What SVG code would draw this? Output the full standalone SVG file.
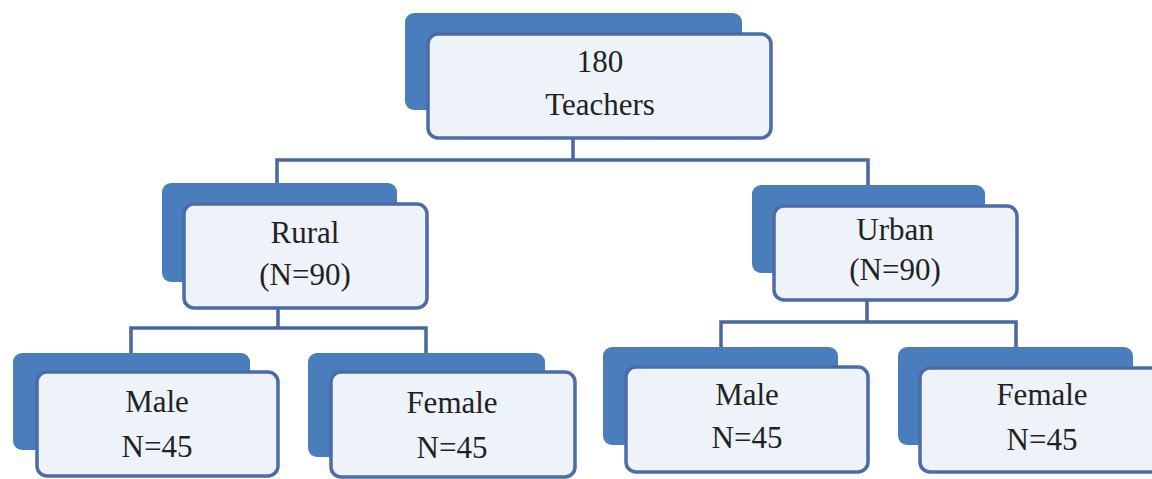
<svg xmlns="http://www.w3.org/2000/svg" width="1152" height="479" viewBox="0 0 1152 479">
<style>
.back{fill:#4a7dbb;}
.front{fill:#eef2f9;stroke:#4d6ba6;stroke-width:3.5;}
.conn{fill:none;stroke:#4a67a0;stroke-width:3.5;}
text{font-family:"Liberation Serif","Times New Roman",serif;fill:#222;text-anchor:middle;font-size:31px;}
</style>
<rect width="1152" height="479" fill="#ffffff"/>
<g id="connectors">
<path class="conn" d="M573 138 V160 M277 185 V160 H868 V185"/>
<path class="conn" d="M278 308 V328 M131 353 V328 H426 V353"/>
<path class="conn" d="M867 300 V322 M721 347 V322 H1016 V347"/>
</g>
<g id="teachers">
<rect class="back" x="405" y="13" width="337" height="97" rx="9"/>
<rect class="front" x="428" y="34" width="343" height="104" rx="10"/>
<text x="600" y="72">180</text>
<text x="600" y="115">Teachers</text>
</g>
<g id="rural">
<rect class="back" x="162" y="183" width="235" height="99" rx="9"/>
<rect class="front" x="184" y="204" width="243" height="104" rx="10"/>
<text x="305" y="243">Rural</text>
<text x="305" y="285">(N=90)</text>
</g>
<g id="urban">
<rect class="back" x="752" y="185" width="233" height="88" rx="9"/>
<rect class="front" x="774" y="206" width="243" height="94" rx="10"/>
<text x="895" y="240">Urban</text>
<text x="895" y="280">(N=90)</text>
</g>
<g id="rural-male">
<rect class="back" x="13" y="353" width="237" height="97" rx="9"/>
<rect class="front" x="37" y="372" width="241" height="104" rx="10"/>
<text x="157" y="412">Male</text>
<text x="157" y="457">N=45</text>
</g>
<g id="rural-female">
<rect class="back" x="308" y="353" width="237" height="104" rx="9"/>
<rect class="front" x="331" y="372" width="244" height="105" rx="10"/>
<text x="452" y="413">Female</text>
<text x="452" y="458">N=45</text>
</g>
<g id="urban-male">
<rect class="back" x="603" y="347" width="235" height="98" rx="9"/>
<rect class="front" x="626" y="367" width="242" height="105" rx="10"/>
<text x="747" y="405">Male</text>
<text x="747" y="448">N=45</text>
</g>
<g id="urban-female">
<rect class="back" x="898" y="347" width="235" height="98" rx="9"/>
<rect class="front" x="920" y="368" width="243" height="104" rx="10"/>
<text x="1042" y="405">Female</text>
<text x="1042" y="450">N=45</text>
</g>
</svg>
